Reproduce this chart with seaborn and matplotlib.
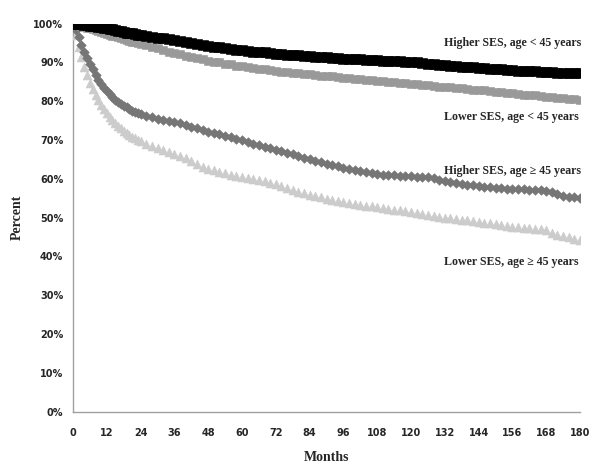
import matplotlib
matplotlib.use('Agg')
import matplotlib.pyplot as plt
import matplotlib.ticker as mticker
import seaborn as sns
import pandas as pd

# data ---------------------------------------------------------------
# monthly for the first two years, then every second month
months = list(range(0, 25)) + list(range(26, 181, 2))

higher_young = [100, 100, 99.9, 99.8, 99.7, 99.6, 99.5, 99.4, 99.3, 99.2, 99.1, 98.9, 98.8, 98.6, 98.5,
                98.3, 98.2, 98.0, 97.9, 97.7, 97.6, 97.5, 97.3, 97.2, 97.1,
                96.9, 96.6, 96.4, 96.2, 96.0, 95.8, 95.5, 95.3, 95.0, 94.8, 94.5, 94.3, 94.1, 93.9, 93.7,
                93.5, 93.3, 93.2, 93.0, 92.8, 92.7, 92.6, 92.4, 92.3, 92.2, 92.0, 91.9, 91.8, 91.7, 91.6,
                91.5, 91.4, 91.3, 91.2, 91.1, 91.0, 90.9, 90.9, 90.8, 90.7, 90.7, 90.6, 90.5, 90.5, 90.4,
                90.3, 90.2, 90.1, 90.0, 89.8, 89.7, 89.6, 89.4, 89.3, 89.2, 89.0, 88.9, 88.8, 88.7, 88.6,
                88.5, 88.4, 88.3, 88.2, 88.1, 88.0, 87.9, 87.8, 87.8, 87.7, 87.6, 87.6, 87.5, 87.4, 87.4,
                87.3, 87.3, 87.2]

lower_young = [100, 99.8, 99.6, 99.4, 99.2, 99.0, 98.8, 98.5, 98.3, 98.1, 97.9, 97.6, 97.4, 97.2, 96.9,
               96.7, 96.5, 96.2, 96.0, 95.8, 95.6, 95.4, 95.2, 95.0, 94.8,
               94.4, 94.0, 93.6, 93.2, 92.8, 92.5, 92.1, 91.7, 91.4, 91.1, 90.8, 90.5, 90.2, 90.0, 89.7,
               89.5, 89.2, 89.0, 88.8, 88.6, 88.4, 88.2, 88.0, 87.8, 87.6, 87.5, 87.3, 87.2, 87.0, 86.9,
               86.8, 86.6, 86.5, 86.4, 86.2, 86.1, 86.0, 85.8, 85.7, 85.6, 85.4, 85.3, 85.2, 85.0, 84.9,
               84.8, 84.6, 84.5, 84.4, 84.2, 84.1, 84.0, 83.8, 83.7, 83.6, 83.4, 83.3, 83.2, 83.0, 82.9,
               82.8, 82.6, 82.5, 82.3, 82.2, 82.0, 81.9, 81.7, 81.6, 81.5, 81.3, 81.2, 81.1, 80.9, 80.8,
               80.7, 80.5, 80.4]

higher_old = [100, 98.3, 96.5, 94.6, 92.8, 91.2, 89.6, 88.2, 86.8, 85.6, 84.5, 83.5, 82.6, 81.8, 81.1,
              80.4, 79.8, 79.3, 78.8, 78.4, 78.0, 77.6, 77.3, 77.0, 76.8,
              76.3, 75.9, 75.5, 75.2, 74.9, 74.6, 74.3, 73.9, 73.4, 73.0, 72.5, 72.2, 71.9, 71.5, 71.1,
              70.7, 70.3, 69.9, 69.5, 69.1, 68.7, 68.3, 67.9, 67.5, 67.1, 66.7, 66.3, 65.9, 65.5, 65.1,
              64.7, 64.3, 63.9, 63.6, 63.2, 62.9, 62.6, 62.2, 62.0, 61.7, 61.4, 61.2, 61.1, 61.0, 60.9,
              60.8, 60.8, 60.7, 60.6, 60.6, 60.5, 60.2, 59.8, 59.4, 59.1, 58.9, 58.7, 58.5, 58.3, 58.1,
              58.0, 57.8, 57.7, 57.6, 57.5, 57.4, 57.3, 57.3, 57.2, 57.1, 57.1, 57.0, 56.5, 56.0, 55.6,
              55.4, 55.2, 55.0]

lower_old = [100, 97.0, 94.0, 91.3, 88.8, 86.7, 84.8, 83.1, 81.6, 80.2, 79.0, 77.9, 76.9, 76.0, 75.1,
             74.4, 73.7, 73.0, 72.4, 71.9, 71.4, 70.9, 70.5, 70.1, 69.8,
             69.1, 68.5, 68.0, 67.5, 67.0, 66.5, 65.9, 65.3, 64.6, 63.8, 63.1, 62.6, 62.2, 61.8, 61.4,
             61.1, 60.8, 60.5, 60.2, 59.9, 59.7, 59.4, 59.0, 58.6, 58.1, 57.6, 57.1, 56.7, 56.3, 55.9,
             55.6, 55.2, 54.9, 54.6, 54.4, 54.1, 53.8, 53.6, 53.3, 53.1, 52.9, 52.8, 52.5, 52.3, 52.1,
             51.9, 51.7, 51.5, 51.2, 50.9, 50.6, 50.4, 50.2, 50.0, 49.8, 49.6, 49.4, 49.3, 49.1, 49.0,
             48.7, 48.5, 48.3, 48.1, 47.9, 47.7, 47.6, 47.4, 47.3, 47.2, 47.0, 46.8, 46.1, 45.6, 45.2,
             44.9, 44.6, 44.3]

groups = ['Higher SES, age < 45 years', 'Lower SES, age < 45 years',
          'Higher SES, age \u2265 45 years', 'Lower SES, age \u2265 45 years']
label_y = [95.0, 76.0, 62.0, 38.7]

rows = []
for g, vals in zip(groups, [higher_young, lower_young, higher_old, lower_old]):
    assert len(vals) == len(months), (g, len(vals), len(months))
    for m, v in zip(months, vals):
        rows.append({'month': m, 'pct': v, 'group': g})
df = pd.DataFrame(rows)

# plot ---------------------------------------------------------------
sns.set_style('white')
plt.rcParams['font.family'] = ['Liberation Serif', 'DejaVu Serif']

fig = plt.figure(figsize=(6, 4.73), dpi=100)
ax = fig.add_axes([0.1217, 0.1296, 0.845, 0.8204])

colors = {groups[0]: '#000000', groups[1]: '#999999', groups[2]: '#767676', groups[3]: '#cccccc'}
markers = {groups[0]: 's', groups[1]: 's', groups[2]: 'D', groups[3]: '^'}
sizes = {groups[0]: 48, groups[1]: 34, groups[2]: 24, groups[3]: 42}

# draw back to front
for g in groups[::-1]:
    sns.scatterplot(data=df[df.group == g], x='month', y='pct', color=colors[g],
                    marker=markers[g], s=sizes[g], edgecolor=colors[g], linewidth=0.4,
                    legend=False, ax=ax, zorder=3)

for g, y in zip(groups, label_y):
    ax.text(131.7, y, g, fontsize=8.6, fontweight='bold', ha='left', va='center')

ax.set_xlim(0, 180)
ax.set_ylim(0, 100)
ax.set_xticks(range(0, 181, 12))
ax.set_yticks(range(0, 101, 10))
ax.yaxis.set_major_formatter(mticker.FuncFormatter(lambda v, p: '{:.0f}%'.format(v)))

for s in ['top', 'right']:
    ax.spines[s].set_visible(False)
for s in ['left', 'bottom']:
    ax.spines[s].set_color('#a0a0a0')
    ax.spines[s].set_linewidth(1)

ax.tick_params(axis='both', direction='out', length=3, width=0.8, color='#a0a0a0', pad=4)
ax.tick_params(axis='x', pad=9)
for lab in ax.get_xticklabels() + ax.get_yticklabels():
    lab.set_fontfamily('DejaVu Sans')
    lab.set_fontweight('bold')
    lab.set_fontsize(7)

ax.set_xlabel('Months', fontsize=10, fontweight='bold', labelpad=9)
ax.set_ylabel('Percent', fontsize=10, fontweight='bold', labelpad=7)

fig.savefig('out.png', dpi=100)
